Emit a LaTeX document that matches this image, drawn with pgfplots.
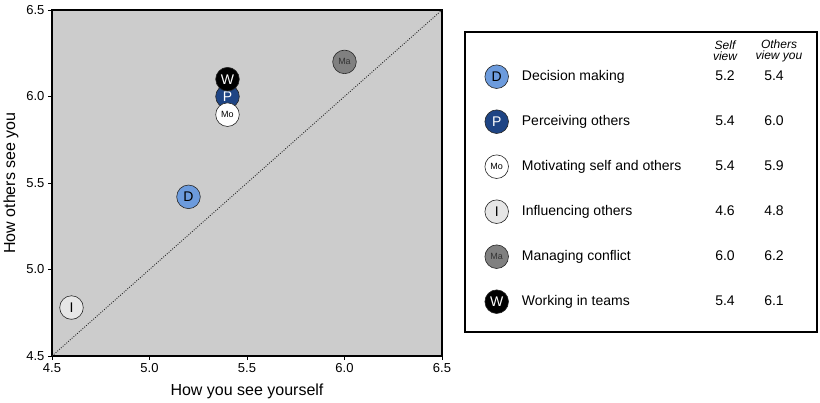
\documentclass[border=0pt]{standalone}
\usepackage{pgfplots}
\pgfplotsset{compat=1.18}
\usepackage{fontspec}
\setmainfont{Liberation Sans}
\definecolor{cD}{RGB}{108,155,221}
\definecolor{cP}{RGB}{30,68,132}
\definecolor{cMo}{RGB}{255,255,255}
\definecolor{cI}{RGB}{230,230,230}
\definecolor{cMa}{RGB}{128,128,128}
\definecolor{cW}{RGB}{0,0,0}
\definecolor{bg}{RGB}{204,204,204}
\pgfplotsset{
  bub/.style n args={3}{only marks, mark=*, mark size=11.8pt,
    mark options={fill=#1, draw=black!85, line width=0.6pt},
    nodes near coords={#3}, nodes near coords align={center},
    every node near coord/.append style={text=#2, anchor=center, inner sep=0pt, font=\fontsize{14}{14}\selectfont}},
  smallbub/.style n args={3}{only marks, mark=*, mark size=11.8pt,
    mark options={fill=#1, draw=black!85, line width=0.6pt},
    nodes near coords={#3}, nodes near coords align={center},
    every node near coord/.append style={text=#2, anchor=center, inner sep=0pt, font=\fontsize{9}{9}\selectfont}},
}
\begin{document}
\begin{tikzpicture}
\path[use as bounding box] (0,0) rectangle (820pt,403pt);
\begin{axis}[
  at={(52pt,47pt)}, anchor=south west,
  scale only axis, width=390pt, height=346pt,
  xmin=4.5, xmax=6.5, ymin=4.5, ymax=6.5,
  xtick={4.5,5.0,5.5,6.0,6.5}, ytick={4.5,5.0,5.5,6.0,6.5},
  xticklabels={4.5,5.0,5.5,6.0,6.5}, yticklabels={4.5,5.0,5.5,6.0,6.5},
  tick align=outside, major tick length=4pt,
  tick style={black, line width=0.8pt},
  xtick pos=bottom, ytick pos=left,
  axis line style={black, line width=1.2pt},
  axis background/.style={fill=bg},
  /pgf/number format/assume math mode=true,
  tick label style={font=\fontsize{13}{13}\selectfont},
  xlabel={How you see yourself}, ylabel={How others see you},
  every axis x label/.style={at={(axis description cs:0.5,0)}, anchor=base, yshift=-40pt, font=\fontsize{16}{16}\selectfont},
  every axis y label/.style={at={(axis description cs:-0.105,0.5)}, rotate=90, anchor=center, font=\fontsize{16}{16}\selectfont},
  clip=false,
]
\addplot[black!85, line width=0.9pt, dash pattern=on 0.9pt off 1.5pt] coordinates {(4.5,4.5) (6.5,6.5)};
\addplot[bub={cD}{black}{D}] coordinates {(5.2,5.42)};
\addplot[bub={cI}{black}{I}] coordinates {(4.6,4.78)};
\addplot[smallbub={cMa}{black!80}{Ma}] coordinates {(6.0,6.2)};
\addplot[bub={cP}{white}{P}] coordinates {(5.4,6.0)};
\addplot[smallbub={cMo}{black}{Mo}] coordinates {(5.4,5.895)};
\addplot[bub={cW}{white}{W}] coordinates {(5.4,6.1)};
\end{axis}
\begin{axis}[
  at={(465pt,71pt)}, anchor=south west,
  scale only axis, width=352pt, height=300pt,
  xmin=0, xmax=352, ymin=0, ymax=300,
  axis lines=box, ticks=none,
  axis line style={black, line width=1.8pt},
  clip=false,
]
\addplot[bub={cD}{black}{D}] coordinates {(31.7,255.3)};
\addplot[bub={cP}{white}{P}] coordinates {(31.7,210.3)};
\addplot[smallbub={cMo}{black}{Mo}] coordinates {(31.7,165.3)};
\addplot[bub={cI}{black}{I}] coordinates {(31.7,120.3)};
\addplot[smallbub={cMa}{black!80}{Ma}] coordinates {(31.7,75.3)};
\addplot[bub={cW}{white}{W}] coordinates {(31.7,30.3)};
\begin{scope}[every node/.style={font=\fontsize{14}{14}\selectfont, inner sep=0pt}]
\node[anchor=mid west] at (axis cs:56.7,254) {Decision making};
\node[anchor=mid west] at (axis cs:56.7,209) {Perceiving others};
\node[anchor=mid west] at (axis cs:56.7,164) {Motivating self and others};
\node[anchor=mid west] at (axis cs:56.7,119) {Influencing others};
\node[anchor=mid west] at (axis cs:56.7,74) {Managing conflict};
\node[anchor=mid west] at (axis cs:56.7,29) {Working in teams};
\node[anchor=mid] at (axis cs:260,254) {5.2};
\node[anchor=mid] at (axis cs:260,209) {5.4};
\node[anchor=mid] at (axis cs:260,164) {5.4};
\node[anchor=mid] at (axis cs:260,119) {4.6};
\node[anchor=mid] at (axis cs:260,74) {6.0};
\node[anchor=mid] at (axis cs:260,29) {5.4};
\node[anchor=mid] at (axis cs:309,254) {5.4};
\node[anchor=mid] at (axis cs:309,209) {6.0};
\node[anchor=mid] at (axis cs:309,164) {5.9};
\node[anchor=mid] at (axis cs:309,119) {4.8};
\node[anchor=mid] at (axis cs:309,74) {6.2};
\node[anchor=mid] at (axis cs:309,29) {6.1};
\end{scope}
\node[align=center, font=\itshape\fontsize{12}{11}\selectfont, inner sep=0pt] at (axis cs:260,281) {Self\\view};
\node[align=center, font=\itshape\fontsize{12}{11}\selectfont, inner sep=0pt] at (axis cs:314,281) {Others\\view you};
\end{axis}
\end{tikzpicture}
\end{document}
